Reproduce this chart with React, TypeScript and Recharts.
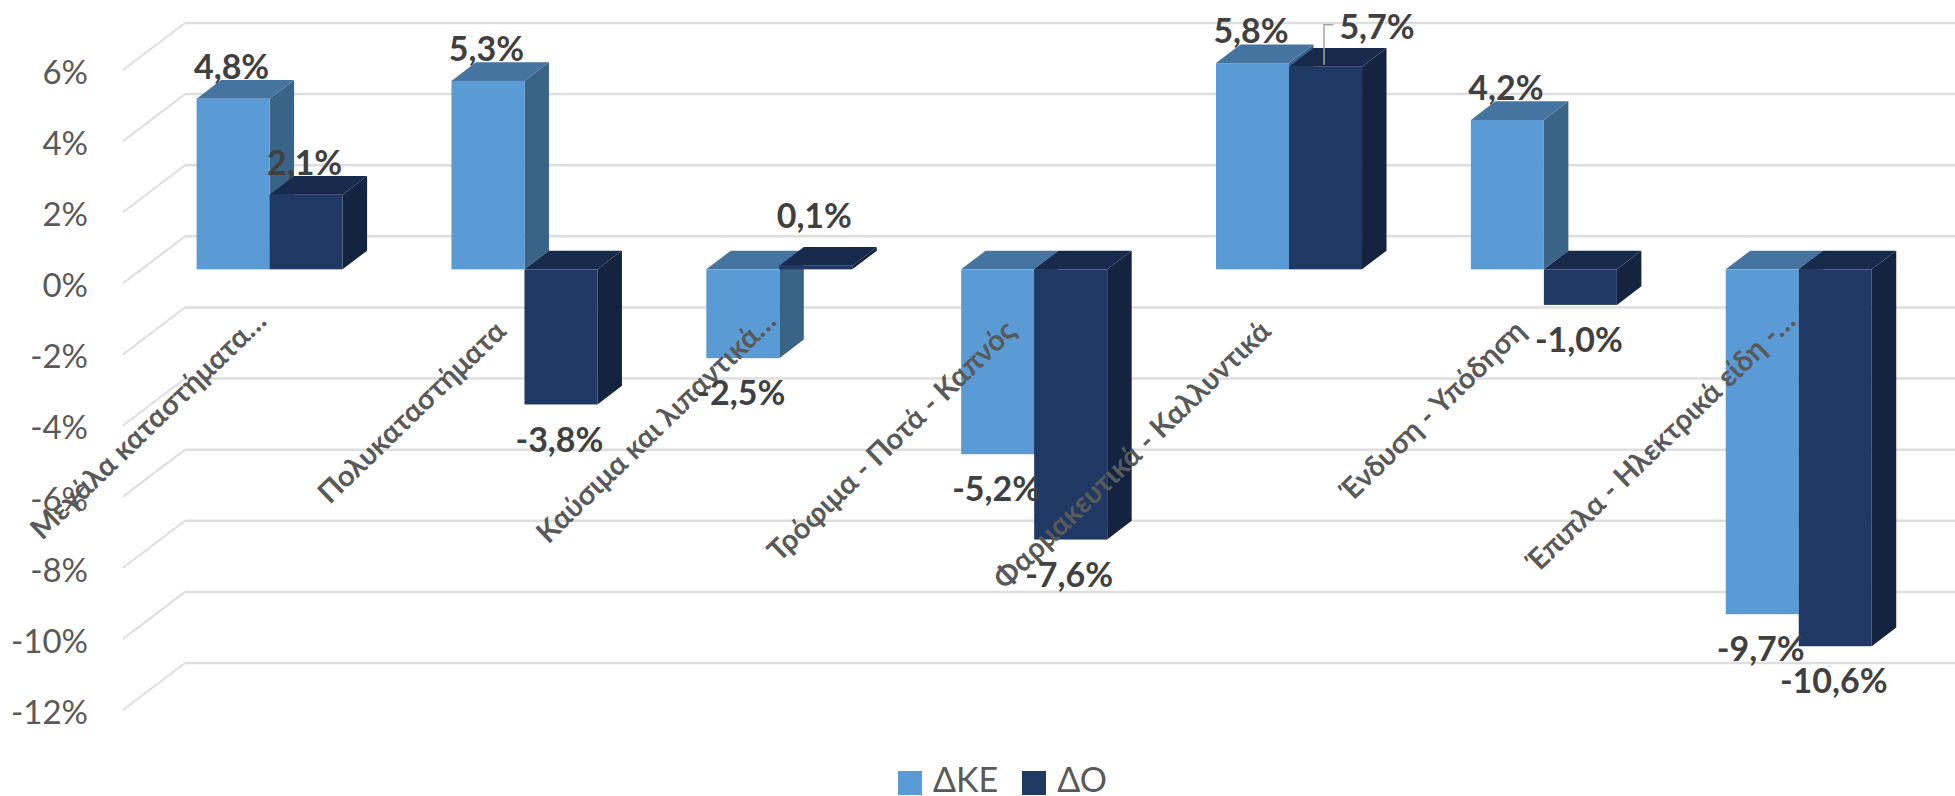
import { Bar, BarChart, CartesianGrid, LabelList, Legend, XAxis, YAxis } from "recharts";

const categories = [
  "Μεγάλα καταστήματα…",
  "Πολυκαταστήματα",
  "Καύσιμα και λιπαντικά…",
  "Τρόφιμα - Ποτά - Καπνός",
  "Φαρμακευτικά - Καλλυντικά",
  "Ένδυση - Υπόδηση",
  "Έπιπλα - Ηλεκτρικά είδη -…",
];
const deltaKE = [4.8, 5.3, -2.5, -5.2, 5.8, 4.2, -9.7];
const deltaO = [2.1, -3.8, 0.1, -7.6, 5.7, -1.0, -10.6];
const yTicks = [6, 4, 2, 0, -2, -4, -6, -8, -10, -12];

const data = categories.map((name, i) => ({ name, ke: deltaKE[i], o: deltaO[i] }));

const FONT = "Lato, 'Noto Sans', sans-serif";
const DEPTH_X = 24.5;
const DEPTH_Y = 18.7;

// fake 3d: front rect plus a top and a side face
const box3d = (topColor: string, sideColor: string) => (props: any) => {
  const { x, y, width, height, fill } = props;
  const top = Math.min(y, y + height);
  const bottom = Math.max(y, y + height);
  const right = x + width;
  return (
    <g>
      <polygon
        points={`${right},${top} ${right + DEPTH_X},${top - DEPTH_Y} ${right + DEPTH_X},${bottom - DEPTH_Y} ${right},${bottom}`}
        fill={sideColor}
      />
      <polygon
        points={`${x},${top} ${x + DEPTH_X},${top - DEPTH_Y} ${right + DEPTH_X},${top - DEPTH_Y} ${right},${top}`}
        fill={topColor}
      />
      <rect x={x} y={top} width={width} height={bottom - top} fill={fill} />
    </g>
  );
};

const pct = (v: number) => `${v.toFixed(1).replace(".", ",")}%`;

const barLabel = (props: any) => {
  const { x, y, width, height, value } = props;
  const top = Math.min(y, y + height);
  const bottom = Math.max(y, y + height);
  let cx = x + width / 2 - 1.5;
  let cy = value >= 0 ? top - 32 : bottom + 35;
  let leader = null;
  // the two labels that were dragged away from their bars in the original
  if (value === 0.1) cy = top - 50;
  if (value === 5.7) {
    leader = (
      <polyline
        points={`${cx},${top - 2} ${cx},${top - 42} ${cx + 9.5},${top - 42}`}
        fill="none"
        stroke="#a6a6a6"
        strokeWidth={1.5}
      />
    );
    cx += 53;
    cy = top - 40;
  }
  return (
    <g>
      {leader}
      <text x={cx} y={cy} dy="0.36em" textAnchor="middle" fontFamily={FONT} fontWeight={700} fontSize={34} fill="#404040">
        {pct(value)}
      </text>
    </g>
  );
};

const gridLine = (props: any) => {
  const { y1, index } = props;
  return (
    <g key={index}>
      <line x1={123} y1={y1 + 14} x2={185} y2={y1 - 33} stroke="#dedede" strokeWidth={2} />
      <line x1={185} y1={y1 - 33} x2={1955} y2={y1 - 33} stroke="#dedede" strokeWidth={2.5} />
    </g>
  );
};

const yTick = (props: any) => {
  const { y, payload } = props;
  return (
    <text x={88} y={y + 16} dy="0.36em" textAnchor="end" fontFamily={FONT} fontSize={33} fill="#595959">
      {`${payload.value}%`}
    </text>
  );
};

const xTick = (props: any) => {
  const { x, payload } = props;
  const cut = String(payload.value).endsWith("…");
  const ax = x + (cut ? -2 : -17);
  const ay = cut ? 323 : 333;
  return (
    <text
      x={ax}
      y={ay}
      textAnchor="end"
      transform={`rotate(-44 ${ax} ${ay})`}
      fontFamily={FONT}
      fontWeight={700}
      fontSize={29}
      fill="#595959"
    >
      {payload.value}
    </text>
  );
};

const legendContent = (props: any) => (
  <div style={{ position: "absolute", left: 898, top: 762, display: "flex", alignItems: "center", whiteSpace: "nowrap" }}>
    {props.payload.map((p: any) => (
      <div key={p.value} style={{ display: "flex", alignItems: "center", marginRight: 24 }}>
        <span style={{ width: 24, height: 24, background: p.color, display: "inline-block", marginRight: 11, marginTop: 8 }} />
        <span style={{ fontFamily: FONT, fontSize: 34, color: "#595959", lineHeight: "34px" }}>{p.value}</span>
      </div>
    ))}
  </div>
);

export default function App() {
  return (
    <div style={{ position: "absolute", left: 0, top: 0, width: 1955, height: 796, overflow: "hidden", background: "#fff" }}>
      <BarChart
        width={1955}
        height={796}
        data={data}
        barSize={73}
        barGap={0}
        margin={{ top: 56, right: 28.4, bottom: 99, left: 141.6 }}
      >
        <CartesianGrid horizontal={gridLine} vertical={false} />
        <XAxis dataKey="name" height={1} axisLine={false} tickLine={false} interval={0} tick={xTick} />
        <YAxis width={1} domain={[-12, 6]} ticks={yTicks} axisLine={false} tickLine={false} interval={0} tick={yTick} />
        <Legend content={legendContent} wrapperStyle={{ left: 0, top: 0, bottom: "auto" }} />
        <Bar dataKey="ke" name="ΔΚΕ" fill="#5b9bd5" shape={box3d("#4674a0", "#3a6388")} isAnimationActive={false}>
          <LabelList dataKey="ke" content={barLabel} />
        </Bar>
        <Bar dataKey="o" name="ΔΟ" fill="#1f3864" shape={box3d("#172a4c", "#14233f")} isAnimationActive={false}>
          <LabelList dataKey="o" content={barLabel} />
        </Bar>
      </BarChart>
    </div>
  );
}
